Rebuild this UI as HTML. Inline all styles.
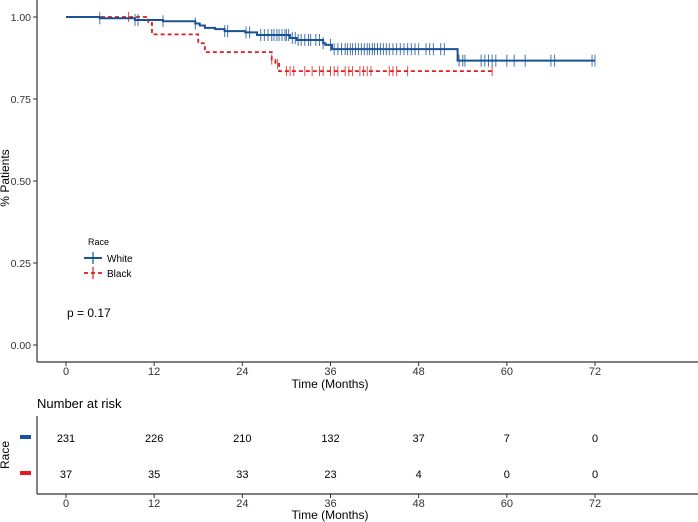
<!DOCTYPE html>
<html><head><meta charset="utf-8"><style>
body{margin:0;background:#fff}
svg{display:block;font-family:"Liberation Sans",sans-serif}
</style></head><body>
<svg id="c" width="698" height="522" viewBox="0 0 698 522">
<g id="g"></g>
</svg>
<script>
const xTicks=[0,12,24,36,48,60,72];
const yTicks=[0,0.25,0.5,0.75,1];
const yTickLabels=["0.00","0.25","0.50","0.75","1.00"];
const whiteTimes=[0,4.6,9.4,13.2,17.6,18.2,18.9,20.3,21.6,24.4,26,30.5,31.4,35,35.3,36.2,53.3,72];
const whiteSurv=[1,0.996,0.991,0.987,0.98,0.974,0.967,0.963,0.957,0.953,0.945,0.936,0.93,0.92,0.915,0.902,0.867,0.867];
const blackTimes=[0,11.2,11.7,18,18.9,28,28.5,29,58];
const blackSurv=[1,0.985,0.947,0.92,0.893,0.87,0.857,0.835,0.835];
const whiteCensor=[4.6,9.4,9.8,13.2,17.6,21.6,22,24.5,25,26.5,27,27.5,28,28.3,28.7,29,29.4,29.8,30,30.3,30.8,31.2,31.6,32,32.5,33,33.3,34,34.5,35,36,36.5,37,37.5,38,38.3,38.7,39,39.4,39.8,40.2,40.6,41,41.3,41.7,42,42.4,42.8,43.2,43.6,44,44.5,45,45.5,46,46.5,47,47.5,48,49,49.5,50,51,51.5,53.5,54,54.3,56.5,57,57.5,58,58.5,60,61,62.5,66,66.5,71.6,72];
const blackCensor=[8.5,28,28.8,30,30.5,31,32.5,33.5,34.5,35,36,36.5,37,38,38.5,39,40,40.5,41,41.5,44,44.5,45,46.5,58];
const riskWhite=[231,226,210,132,37,7,0];
const riskBlack=[37,35,33,23,4,0,0];
const NS="http://www.w3.org/2000/svg";
const g=document.getElementById('g');
const X=t=>66+t*(595-66)/72;
const Y=s=>345-s*(345-17);
function el(tag,attrs,txt){const e=document.createElementNS(NS,tag);for(const k in attrs)e.setAttribute(k,attrs[k]);if(txt!==undefined)e.textContent=txt;g.appendChild(e);return e;}
let a=el('line',{x1:37,y1:0,x2:37,y2:362,stroke:'#333','stroke-width':1.2});


a=el('line',{x1:37,y1:362,x2:698,y2:362,stroke:'#333','stroke-width':1.2});


yTicks.forEach((v,i)=>{el('line',{x1:33,x2:37,y1:Y(v),y2:Y(v),stroke:'#333'});
 const t=el('text',{x:31,y:Y(v)+4,'font-size':10.5,'text-anchor':'end',fill:'#333'},yTickLabels[i]);
 
 });
xTicks.forEach(v=>{el('line',{x1:X(v),x2:X(v),y1:362,y2:366,stroke:'#333'});
 const t=el('text',{x:X(v),y:375,'font-size':11,'text-anchor':'middle',fill:'#333'},v);
 
 });
a=el('text',{x:330,y:388,'font-size':12,'text-anchor':'middle'},'Time (Months)');


a=el('text',{x:9,y:178,'font-size':12,'text-anchor':'middle',transform:'rotate(-90 9 178)'},'% Patients');


function stepPath(ts,ss){let d='M'+X(ts[0])+' '+Y(ss[0]);for(let i=1;i<ts.length;i++){d+=' H'+X(ts[i])+' V'+Y(ss[i]);}return d;}
function survAt(ts,ss,t){let s=ss[0];for(let i=0;i<ts.length;i++){if(ts[i]<=t)s=ss[i];}return s;}
a=el('path',{d:stepPath(blackTimes,blackSurv),fill:'none',stroke:'#e41a1c','stroke-width':1.8,'stroke-dasharray':'4,3'});


blackCensor.forEach(t=>{const y=Y(survAt(blackTimes,blackSurv,t));const c=el('line',{x1:X(t),x2:X(t),y1:y-5,y2:y+5,stroke:'#e41a1c','stroke-width':1,opacity:0.8});
 
 });
a=el('path',{d:stepPath(whiteTimes,whiteSurv),fill:'none',stroke:'#1a5296','stroke-width':2});


whiteCensor.forEach(t=>{const y=Y(survAt(whiteTimes,whiteSurv,t));const c=el('line',{x1:X(t),x2:X(t),y1:y-6,y2:y+6,stroke:'#1a5296','stroke-width':1,opacity:0.8});
 
 });
a=el('text',{x:88,y:245,'font-size':9},'Race');


el('line',{x1:84,x2:102,y1:258,y2:258,stroke:'#1a5296','stroke-width':2});
el('line',{x1:93,x2:93,y1:252,y2:264,stroke:'#1a5296','stroke-width':1.2});
a=el('text',{x:107,y:262,'font-size':10},'White');


el('line',{x1:84,x2:102,y1:273,y2:273,stroke:'#e41a1c','stroke-width':1.8,'stroke-dasharray':'4,3'});
el('line',{x1:93,x2:93,y1:267,y2:279,stroke:'#e41a1c','stroke-width':1.2});
a=el('text',{x:107,y:277,'font-size':10},'Black');


a=el('text',{x:67,y:317,'font-size':12},'p = 0.17');


a=el('text',{x:37,y:408,'font-size':13},'Number at risk');


el('line',{x1:37,y1:416,x2:37,y2:494,stroke:'#333','stroke-width':1.2});
el('line',{x1:37,y1:494,x2:698,y2:494,stroke:'#333','stroke-width':1.2});
xTicks.forEach(v=>{el('line',{x1:X(v),x2:X(v),y1:494,y2:498,stroke:'#333'});
 const t=el('text',{x:X(v),y:507,'font-size':11,'text-anchor':'middle',fill:'#333'},v);
 
 });
a=el('text',{x:330,y:519,'font-size':12,'text-anchor':'middle'},'Time (Months)');


a=el('text',{x:9,y:455,'font-size':12,'text-anchor':'middle',transform:'rotate(-90 9 455)'},'Race');


el('rect',{x:20,y:435,width:11,height:4,fill:'#1a5296'});
el('rect',{x:20,y:471,width:11,height:4,fill:'#e41a1c'});
riskWhite.forEach((v,i)=>{const t=el('text',{x:X(xTicks[i]),y:442,'font-size':11,'text-anchor':'middle'},v);
 
 });
riskBlack.forEach((v,i)=>{const t=el('text',{x:X(xTicks[i]),y:478,'font-size':11,'text-anchor':'middle'},v);
 
 });
</script>
</body></html>
